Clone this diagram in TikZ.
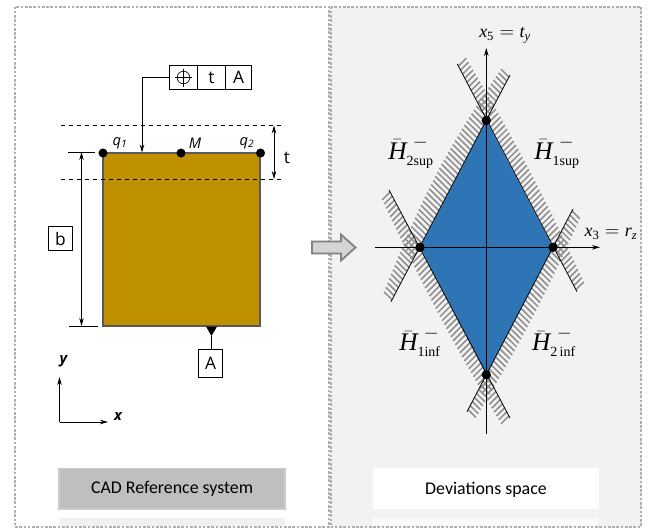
\documentclass[tikz,border=0pt]{standalone}
\usepackage{amsmath}
\usepackage{fontspec}
\setmainfont{Carlito}
\newfontfamily\boxfont{Open Sans}
\newfontfamily\timesfont{Liberation Serif}
\usetikzlibrary{arrows.meta,calc}
\definecolor{partgold}{HTML}{BF9000}
\definecolor{zoneblue}{HTML}{2E75B6}
\definecolor{panelgray}{HTML}{F2F2F2}
\definecolor{framegray}{HTML}{B0B0B0}
\definecolor{hatchgray}{HTML}{8E8E8E}
\tikzset{
	>={Stealth[length=6pt,width=3.4pt]},
	panel/.style={draw=framegray,line width=1.5pt,dash pattern=on 2pt off 1.2pt},
	dot/.style={circle,fill=black,inner sep=0pt,minimum size=6.8pt},
	tolbox/.style={draw,line width=0.6pt,inner sep=0pt,minimum height=18.5pt,font=\boxfont\fontsize{13}{13}\selectfont},
	caption/.style={inner sep=0pt,minimum width=169.5pt,minimum height=30.5pt,text depth=1pt,font=\fontsize{13.4}{13.4}\selectfont},
	hatchtick/.style={draw=hatchgray,line width=1.15pt},
	pointlabel/.style={inner sep=0pt,font=\boxfont\itshape\fontsize{11}{11}\selectfont},
	planelabel/.style={inner sep=0pt,font=\timesfont\fontsize{19}{19}\selectfont},
	axislabel/.style={inner sep=0pt,font=\timesfont\fontsize{13.5}{13.5}\selectfont}
}
% hatched band: from, to, tick angle, ticks, width at ends, bulge
\newcommand{\hatchband}[6]{
	\foreach \i in {0,...,#4}{
		\pgfmathsetmacro{\pos}{(\i+0.5)/(#4+1)}
		\pgfmathsetmacro{\wid}{0.75*(#5+#6*sin(180*\pos))}
		\draw[hatchtick] ($(#1)!\pos!(#2)$) -- ($(#1)!\pos!(#2)!\wid pt!#3:(#2)$);
	}
}
\newcommand{\hplane}[1]{$\bar{\text{\itshape H}}^{\,\,-}_{\text{\fontsize{10.5}{10.5}\selectfont #1}}$}

\begin{document}
\begin{tikzpicture}[x=0.75pt,y=-0.75pt]
	\useasboundingbox (0,0) rectangle (652,529);
	% panels
	\draw[panel] (15,6.5) rectangle (328.5,527);
	\draw[panel,fill=panelgray] (330.5,6.5) rectangle (641,527);
	% part with tolerance zone
	\node[draw=black!65,line width=0.9pt,fill=partgold,inner sep=0pt,minimum width=117.75pt,minimum height=129.75pt] (part) at (181.5,239.5) {};
	\coordinate (zoneupl) at (61,125.5);
	\coordinate (zoneupr) at (285,125.5);
	\coordinate (zonelowl) at (61,179);
	\coordinate (zonelowr) at (285,179);
	\draw[dashed,line width=0.6pt] (zoneupl) -- (zoneupr);
	\draw[dashed,line width=0.6pt] (zonelowl) -- (zonelowr);
	\node[dot] (q1) at (103,153) {};
	\node[dot] (M) at (181,153) {};
	\node[dot] (q2) at (260.5,153) {};
	\node[pointlabel] (q1label) at (120,143) {q$_{\text{\itshape 1}}$};
	\node[pointlabel] (Mlabel) at (195,143.5) {M};
	\node[pointlabel] (q2label) at (247,143) {q$_{\text{\itshape 2}}$};
	% tolerance frame
	\node[tolbox,minimum width=21pt] (framesym) at (183.5,77.5) {};
	\node[tolbox,minimum width=21pt] (framet) at (211.5,77.5) {t};
	\node[tolbox,minimum width=20pt] (frameA) at (238.5,77.5) {A};
	\draw[line width=0.5pt] (framesym) circle (6.3);
	\draw[line width=0.5pt] ($(framesym)+(-8.5,0)$) -- ($(framesym)+(8.5,0)$);
	\draw[line width=0.5pt] ($(framesym)+(0,-9)$) -- ($(framesym)+(0,9)$);
	\coordinate (leaderend) at (142,152.5);
	\draw[->,line width=0.6pt] (framesym.west) -| (leaderend);
	% t dimension
	\coordinate (tup) at (274,125.5);
	\coordinate (tlow) at (274,179);
	\draw[<->,line width=0.6pt] (tup) -- (tlow);
	\node[inner sep=0pt,font=\boxfont\fontsize{13}{13}\selectfont] (tlabel) at (287,158) {t};
	% b dimension
	\coordinate (bupl) at (68,152);
	\coordinate (bupr) at (95,152);
	\coordinate (blowl) at (69,326);
	\coordinate (blowr) at (98,326);
	\coordinate (bup) at (81.5,152);
	\coordinate (blow) at (81.5,326);
	\draw[line width=0.6pt] (bupl) -- (bupr);
	\draw[line width=0.6pt] (blowl) -- (blowr);
	\draw[<->,line width=0.6pt] (bup) -- (blow);
	\node[tolbox,fill=white,minimum width=17.5pt] (bbox) at (60.5,238.5) {b};
	% datum
	\node[tolbox,minimum width=18pt,minimum height=21pt] (datum) at (210.5,363) {A};
	\coordinate (datumtip) at (211.5,336);
	\fill (206,326.5) -- (217,326.5) -- (datumtip) -- cycle;
	\draw[line width=0.6pt] (datumtip) -- (datumtip |- datum.north);
	% axes
	\coordinate (orig) at (59.5,422);
	\coordinate (xend) at (108,422);
	\coordinate (yend) at (59.5,377);
	\draw[->,line width=0.6pt] (orig) -- (xend);
	\draw[->,line width=0.6pt] (orig) -- (yend);
	\node[inner sep=0pt,font=\boxfont\bfseries\itshape\fontsize{11}{11}\selectfont] (xlabel) at (118,416.5) {x};
	\node[inner sep=0pt,font=\boxfont\bfseries\itshape\fontsize{11}{11}\selectfont] (ylabel) at (63.5,361) {y};
	% captions
	\node[caption,fill=black!25,draw=black!20,line width=1pt] (cadcap) at (172,488.5) {CAD Reference system};
	\fill[black!6] (59,518) rectangle (285,526);
	\node[caption,fill=white] (devcap) at (486,488.5) {Deviations space};
	\fill[white!60!panelgray] (372,518) rectangle (598,526);
	% block arrow
	\draw[draw=black!50,fill=black!17,line width=1.3pt] (312,241.5) -- (341,241.5) -- (341,234.5) -- (355.5,247.5) -- (341,260.5) -- (341,253.5) -- (312,253.5) -- cycle;
	% deviation polytope
	\coordinate (vtop) at (486.3,120.5);
	\coordinate (vleft) at (420,247.3);
	\coordinate (vright) at (553,247.3);
	\coordinate (vbot) at (486.3,374.7);
	\coordinate (a1) at (457.3,64);
	\coordinate (a2) at (577,291.7);
	\coordinate (b1) at (510,75);
	\coordinate (b2) at (391,301.7);
	\coordinate (c1) at (389,190);
	\coordinate (c2) at (510,418);
	\coordinate (d1) at (573,209);
	\coordinate (d2) at (467,411.7);
	\hatchband{a1}{a2}{107}{55}{11}{4}
	\hatchband{b1}{b2}{-107}{55}{11}{9}
	\hatchband{c1}{c2}{-73}{55}{11}{4}
	\hatchband{d1}{d2}{73}{49}{11}{4}
	\fill[zoneblue] (vtop) -- (vright) -- (vbot) -- (vleft) -- cycle;
	\draw[line width=0.6pt] (a1) -- (a2);
	\draw[line width=0.6pt] (b1) -- (b2);
	\draw[line width=0.6pt] (c1) -- (c2);
	\draw[line width=0.6pt] (d1) -- (d2);
	\coordinate (x5start) at (486.3,434);
	\coordinate (x5end) at (486.3,48);
	\coordinate (x3start) at (375,247.3);
	\coordinate (x3end) at (600,247.3);
	\draw[->,line width=0.7pt] (x5start) -- (x5end);
	\draw[->,line width=0.7pt] (x3start) -- (x3end);
	\node[dot,minimum size=7pt] (ptop) at (vtop) {};
	\node[dot,minimum size=7pt] (pleft) at (vleft) {};
	\node[dot,minimum size=7pt] (pright) at (vright) {};
	\node[dot,minimum size=7pt] (pbot) at (vbot) {};
	\node[axislabel] (x5label) at (505,35) {$\text{\itshape x}_{\text{5}}=\text{\itshape t}_{\text{\itshape y}}$};
	\node[axislabel] (x3label) at (611,234) {$\text{\itshape x}_{\text{3}}=\text{\itshape r}_{\text{\itshape z}}$};
	\node[planelabel] (h2sup) at (411,152) {\hplane{2sup}};
	\node[planelabel] (h1sup) at (557,152) {\hplane{1sup}};
	\node[planelabel] (h1inf) at (420,342) {\hplane{1inf}};
	\node[planelabel] (h2inf) at (554,342) {\hplane{2\,inf}};
\end{tikzpicture}
\end{document}
